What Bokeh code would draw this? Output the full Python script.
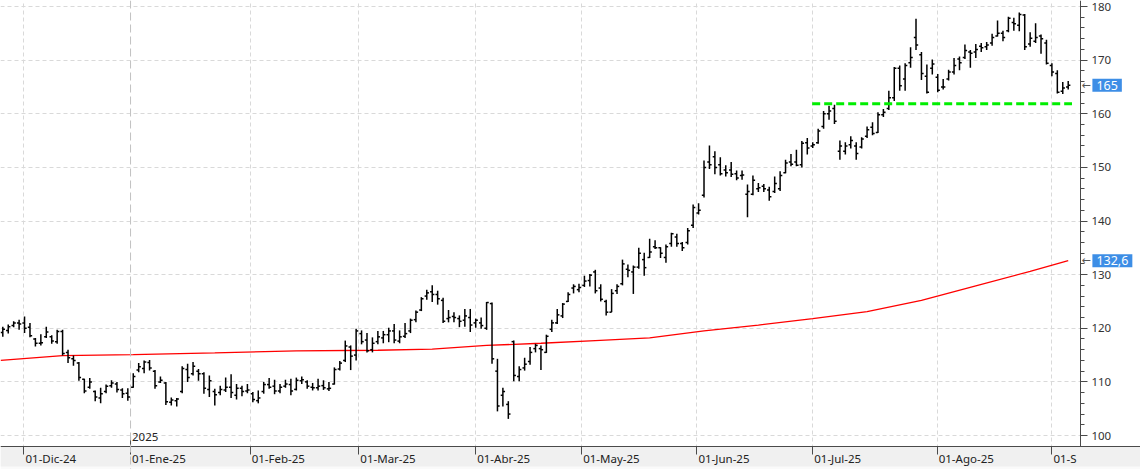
import numpy as np
from bokeh.plotting import figure
from bokeh.models import (FixedTicker, Span, Label, ColumnDataSource, LinearAxis, Grid)
from bokeh.embed import file_html
from bokeh.resources import INLINE

# ---- data (daily OHLC, trading-day index 1..N, 26-Nov-24 .. 04-Sep-25) ----
opens = [119.2, 119.6, 120.5, 121.0, 121.0, 120.2, 118.0, 117.2, 118.4, 118.4,
         117.5, 119.4, 115.5, 114.3, 113.5, 110.5, 109.0, 108.2, 107.0, 108.2,
         109.3, 109.6, 108.5, 107.9, 109.0, 112.2, 112.5, 113.6, 112.0, 110.0,
         109.8, 106.2, 106.5, 108.2, 112.3, 111.5, 112.0, 111.5, 108.6, 108.2,
         108.0, 108.5, 109.0, 107.5, 108.8, 108.3, 107.8, 106.5, 108.2, 109.5,
         109.2, 108.3, 109.2, 109.5, 108.6, 110.2, 110.0, 109.0, 108.9, 109.3,
         108.7, 109.6, 112.4, 114.0, 116.5, 115.0, 119.0, 117.8, 116.0, 117.5,
         118.2, 118.8, 119.5, 117.6, 118.5, 119.5, 121.6, 123.4, 126.0, 126.8,
         126.3, 125.2, 121.8, 122.2, 121.8, 121.5, 122.0, 121.0, 121.0, 120.0,
         124.6, 112.0, 107.5, 105.8, 117.5, 111.0, 112.6, 113.8, 116.2, 116.2,
         115.5, 119.8, 121.0, 122.3, 125.0, 127.5, 127.2, 128.0, 128.9, 130.5,
         127.5, 125.0, 123.0, 127.0, 128.3, 131.0, 130.5, 131.4, 132.8, 133.2,
         135.2, 135.0, 133.2, 135.8, 137.0, 135.8, 136.0, 139.2, 141.5, 144.8,
         151.0, 152.0, 150.5, 149.5, 149.5, 148.8, 148.5, 145.0, 145.0, 146.0,
         146.5, 145.8, 145.5, 146.0, 149.0, 151.0, 151.0, 150.5, 154.6, 154.0,
         154.6, 157.6, 160.0, 161.0, 153.0, 153.0, 154.2, 154.0, 153.8, 155.8,
         157.5, 156.5, 159.8, 161.0, 163.0, 168.5, 166.5, 169.5, 174.2, 171.0,
         167.0, 168.5, 166.8, 165.0, 166.5, 167.8, 170.2, 170.5, 171.5, 171.5,
         172.6, 172.5, 173.2, 174.5, 175.0, 175.5, 177.0, 176.5, 178.4, 173.0,
         173.5, 174.5, 173.2, 169.0, 167.5, 164.2, 165.0]
highs = [120.3, 120.7, 121.3, 121.6, 122.2, 121.0, 118.2, 118.9, 120.3, 118.7,
         119.7, 119.7, 116.0, 114.9, 113.7, 110.6, 110.7, 108.4, 108.9, 109.5,
         110.3, 110.0, 108.8, 108.8, 111.6, 113.5, 114.0, 114.1, 112.2, 111.0,
         110.0, 107.1, 107.0, 112.9, 113.4, 113.7, 112.4, 111.8, 111.2, 108.7,
         109.3, 110.8, 111.4, 109.6, 109.3, 109.6, 108.1, 108.4, 110.0, 110.7,
         110.4, 109.6, 110.4, 110.6, 110.8, 111.0, 110.3, 109.8, 110.6, 110.3,
         110.0, 112.7, 113.9, 117.7, 116.8, 119.9, 119.6, 119.1, 118.3, 119.5,
         119.5, 120.1, 120.8, 119.6, 121.0, 121.8, 123.3, 125.8, 127.2, 128.0,
         127.0, 125.7, 123.4, 123.0, 122.4, 123.6, 123.6, 121.8, 122.0, 124.9,
         124.8, 114.3, 108.9, 106.4, 117.7, 112.9, 114.5, 116.5, 117.1, 116.8,
         118.8, 121.6, 123.6, 124.7, 126.7, 128.2, 128.3, 129.8, 130.1, 130.9,
         128.2, 125.3, 127.3, 128.2, 132.8, 131.9, 131.7, 135.0, 134.1, 136.7,
         136.4, 135.1, 135.6, 137.8, 137.6, 136.1, 138.7, 143.1, 143.3, 151.3,
         154.1, 153.0, 151.9, 150.4, 151.0, 149.4, 149.4, 146.8, 148.5, 147.1,
         146.9, 146.4, 148.3, 149.3, 151.4, 152.5, 153.3, 154.9, 155.5, 154.7,
         157.2, 160.5, 161.5, 161.7, 155.0, 154.7, 155.8, 154.7, 155.6, 157.6,
         158.4, 160.3, 160.9, 164.3, 168.7, 169.0, 169.4, 172.4, 177.7, 171.5,
         169.2, 170.1, 167.4, 166.5, 168.2, 170.4, 170.7, 172.9, 171.9, 173.0,
         173.2, 173.4, 174.9, 177.4, 175.5, 178.1, 177.9, 178.9, 178.6, 175.2,
         176.9, 174.8, 173.8, 169.4, 168.1, 165.9, 166.1]
lows = [118.4, 119.0, 120.2, 119.7, 119.1, 118.3, 116.6, 116.8, 118.2, 117.1,
        117.1, 114.9, 113.5, 113.0, 110.2, 107.9, 108.7, 106.4, 106.0, 107.9,
        108.9, 108.0, 107.0, 106.5, 108.9, 111.8, 111.6, 112.1, 108.7, 109.8,
        105.7, 105.6, 105.4, 107.9, 110.0, 111.2, 110.2, 107.8, 107.2, 105.6,
        107.5, 108.1, 107.0, 106.7, 107.3, 107.9, 106.2, 106.0, 107.8, 108.7,
        107.7, 107.9, 108.9, 107.5, 108.4, 109.6, 108.7, 108.4, 108.4, 108.5,
        108.3, 109.5, 112.1, 113.7, 112.2, 114.0, 117.0, 115.5, 115.5, 117.0,
        117.2, 117.4, 117.2, 117.2, 118.2, 119.1, 121.1, 123.2, 125.3, 124.9,
        124.4, 121.0, 121.1, 121.1, 120.2, 120.3, 119.3, 120.1, 119.9, 119.7,
        113.4, 104.5, 105.4, 103.1, 110.1, 110.1, 112.1, 113.2, 115.5, 112.2,
        115.4, 119.3, 120.8, 121.9, 124.9, 126.5, 126.7, 127.7, 127.8, 126.5,
        125.0, 122.4, 123.0, 126.4, 128.0, 129.5, 126.4, 131.1, 129.8, 133.1,
        134.8, 133.1, 132.2, 135.2, 135.2, 134.4, 135.6, 138.7, 141.2, 144.4,
        149.7, 148.7, 148.5, 148.3, 148.2, 147.6, 147.7, 140.7, 144.8, 145.4,
        145.4, 143.8, 145.2, 145.6, 148.9, 150.2, 150.2, 150.0, 152.4, 153.6,
        154.4, 157.2, 158.9, 158.1, 151.4, 152.4, 153.5, 151.4, 153.5, 155.5,
        156.0, 156.4, 159.4, 160.7, 162.4, 164.3, 164.3, 168.6, 171.9, 166.3,
        163.8, 167.3, 164.0, 164.5, 166.2, 167.3, 168.1, 170.2, 168.6, 170.4,
        171.5, 171.9, 172.7, 174.4, 173.5, 175.2, 175.5, 175.4, 171.9, 172.5,
        173.2, 171.2, 169.2, 167.0, 163.8, 163.7, 164.5]
closes = [119.8, 120.3, 121.0, 120.8, 120.0, 118.6, 117.2, 117.3, 119.3, 117.6,
          119.4, 115.3, 114.5, 114.0, 110.8, 108.3, 110.0, 107.2, 107.8, 109.2,
          109.8, 108.6, 107.8, 107.2, 111.0, 112.8, 113.7, 112.6, 109.3, 110.3,
          106.3, 106.6, 106.8, 112.5, 110.8, 112.9, 111.5, 108.8, 110.2, 107.6,
          108.6, 109.0, 108.0, 108.8, 108.2, 108.5, 106.7, 107.0, 109.5, 109.0,
          108.3, 109.0, 109.6, 108.3, 110.3, 110.4, 109.2, 108.9, 109.2, 108.9,
          108.8, 112.3, 113.5, 116.7, 114.8, 119.5, 117.5, 115.8, 117.2, 118.4,
          118.8, 119.5, 117.8, 118.4, 119.0, 121.5, 123.0, 125.5, 126.6, 126.3,
          125.5, 121.3, 122.0, 122.0, 121.3, 122.3, 120.6, 121.5, 120.5, 124.8,
          114.3, 105.5, 108.2, 104.0, 111.2, 112.3, 113.3, 115.5, 116.8, 116.0,
          118.5, 121.0, 122.5, 124.5, 126.3, 127.8, 127.6, 128.8, 129.9, 127.0,
          125.4, 123.0, 126.5, 127.8, 132.0, 130.8, 131.4, 134.0, 131.3, 134.2,
          135.0, 134.0, 135.2, 137.6, 135.8, 135.0, 138.2, 142.5, 142.0, 150.0,
          150.5, 150.0, 148.8, 149.0, 148.7, 148.0, 148.6, 145.5, 147.6, 146.2,
          146.0, 144.5, 147.0, 148.5, 150.8, 150.6, 150.4, 154.5, 153.6, 154.2,
          156.8, 160.0, 160.5, 158.6, 154.0, 154.0, 155.0, 152.6, 155.3, 157.0,
          156.3, 159.8, 160.3, 163.0, 168.5, 165.2, 169.0, 170.5, 172.8, 167.5,
          164.0, 169.3, 164.4, 165.0, 167.8, 169.0, 169.5, 171.8, 171.3, 172.0,
          172.3, 172.8, 174.2, 175.0, 174.2, 177.8, 176.8, 178.5, 172.5, 174.1,
          174.2, 174.0, 169.4, 167.8, 164.0, 164.8, 165.3]

# 200-session moving average, read at selected sessions
ma_idx = [0.6, 12, 25, 40, 55, 70, 80, 90, 100, 110, 120, 130, 140, 150, 160, 170, 180, 190, 197]
ma_val = [114.0, 114.9, 115.1, 115.4, 115.8, 115.9, 116.1, 116.8, 117.2, 117.7,
          118.2, 119.5, 120.6, 121.8, 123.1, 125.2, 127.9, 130.6, 132.6]

# month starts (session position) and labels
month_pos = [4.9, 24.5, 46.5, 66.5, 88.0, 107.5, 128.7, 150.0, 172.9, 194.0]
month_labels = ["01-Dic-24", "01-Ene-25", "01-Feb-25", "01-Mar-25", "01-Abr-25",
                "01-May-25", "01-Jun-25", "01-Jul-25", "01-Ago-25", "01-S"]
year_pos = 24.5
year_label = "2025"

support_level = 161.85
support_from = 149.9
support_to = 197.7

last_price_label = "165"
ma_label = "132,6"

y_ticks = list(range(100, 181, 10))
y_minor = list(range(98, 182, 2))

FONT = "Noto Sans"

# ---- view geometry (data units) ----
X_MIN, X_MAX = 0.577, 210.30      # whole canvas width
Y_MIN, Y_MAX = 93.66, 181.12      # whole canvas height
X_AXIS_AT = 199.25                 # right price scale position
Y_AXIS_AT = 97.95                  # time axis position
BAND_LOW = 94.22                   # bottom of grey date band
LABEL_Y = 95.62                    # date labels
YEAR_Y = 99.63                     # year marker label
PRICE_LABEL_X = 201.45
ARROW_X = 199.45

n = len(highs)
idx = np.arange(1, n + 1, dtype=float)
tick = 0.4
src = ColumnDataSource(dict(x=idx, xl=idx - tick, xr=idx + tick,
                            o=opens, h=highs, l=lows, c=closes))

p = figure(width=1140, height=469, x_range=(X_MIN, X_MAX), y_range=(Y_MIN, Y_MAX),
           output_backend="svg", toolbar_location=None,
           x_axis_location=None, y_axis_location=None,
           min_border_left=0, min_border_top=0, min_border_right=0, min_border_bottom=0)
p.outline_line_color = None
p.background_fill_color = "#ffffff"
p.border_fill_color = "#ffffff"
p.grid.visible = False

GRID_COL = "#d9d9d9"
p.add_layout(Grid(dimension=1, ticker=FixedTicker(ticks=y_ticks),
                  grid_line_color=GRID_COL, grid_line_dash="4 3"))
p.add_layout(Grid(dimension=0, ticker=FixedTicker(ticks=[m for m in month_pos if m != year_pos]),
                  grid_line_color=GRID_COL, grid_line_dash="4 3"))
p.add_layout(Span(location=year_pos, dimension="height", line_color="#c2c2c2",
                  line_dash="8 4", line_width=1))

# masks for the scale areas (outside the chart area)
p.quad(left=[X_AXIS_AT], right=[X_MAX], bottom=[Y_AXIS_AT], top=[Y_MAX],
       fill_color="#ffffff", line_color=None)
p.quad(left=[X_MIN], right=[X_MAX], bottom=[Y_MIN], top=[Y_AXIS_AT],
       fill_color="#fafafa", line_color=None)
p.quad(left=[X_MIN], right=[X_MAX], bottom=[BAND_LOW], top=[Y_AXIS_AT],
       fill_color="#f0f0f0", line_color=None)

# moving average
p.line(ma_idx, ma_val, line_color="#ff0000", line_width=1.3)

# OHLC bars
p.segment(x0="x", y0="l", x1="x", y1="h", source=src, line_color="#000000", line_width=1.5)
p.segment(x0="xl", y0="o", x1="x", y1="o", source=src, line_color="#000000", line_width=1.5)
p.segment(x0="x", y0="c", x1="xr", y1="c", source=src, line_color="#000000", line_width=1.5)

# support line
p.line([support_from, support_to], [support_level, support_level],
       line_color="#00ee00", line_width=3, line_dash="8 4")

AX_COL = "#4a4a4a"
# price scale (right)
ya = LinearAxis(fixed_location=X_AXIS_AT, bounds=(Y_AXIS_AT, Y_MAX),
                ticker=FixedTicker(ticks=y_ticks, minor_ticks=y_minor),
                major_tick_out=7, major_tick_in=0, minor_tick_out=4, minor_tick_in=0,
                axis_line_color=AX_COL, major_tick_line_color=AX_COL, minor_tick_line_color=AX_COL,
                major_label_text_font=FONT, major_label_text_font_size="11.5px",
                major_label_text_color="#333333", major_label_standoff=4)
p.add_layout(ya, "right")

# time axis (below)
xa = LinearAxis(fixed_location=Y_AXIS_AT, ticker=FixedTicker(ticks=month_pos),
                major_tick_out=8, major_tick_in=0, minor_tick_out=0, minor_tick_in=0,
                axis_line_color=AX_COL, major_tick_line_color=AX_COL,
                major_label_text_color=None)
p.add_layout(xa, "below")

# year marker tick above axis
p.segment(x0=[year_pos], y0=[Y_AXIS_AT], x1=[year_pos], y1=[99.8], line_color=AX_COL, line_width=1)
p.add_layout(Label(x=year_pos, y=YEAR_Y, text=year_label, x_offset=1.5,
                   text_baseline="middle", text_align="left", text_font=FONT,
                   text_font_size="11.5px", text_color="#222222"))

# month labels
for pos, lab in zip(month_pos, month_labels):
    p.add_layout(Label(x=pos, y=LABEL_Y, text=lab, x_offset=1.5,
                       text_baseline="middle", text_align="left", text_font=FONT,
                       text_font_size="11.5px", text_color="#222222"))

# price labels on the scale
for val, txt in ((closes[-1], last_price_label), (ma_val[-1], ma_label)):
    p.add_layout(Label(x=PRICE_LABEL_X, y=val, text=txt, text_baseline="middle", text_align="left",
                       text_font=FONT, text_font_size="12.5px", text_color="#ffffff",
                       background_fill_color="#3d8ee6", padding=(4, 2)))
    p.add_layout(Label(x=ARROW_X, y=val, text="\u2190", text_baseline="middle", text_align="left",
                       text_font="DejaVu Sans", text_font_size="11px", text_color="#555555"))

open("out.html", "w").write(file_html(p, INLINE))
